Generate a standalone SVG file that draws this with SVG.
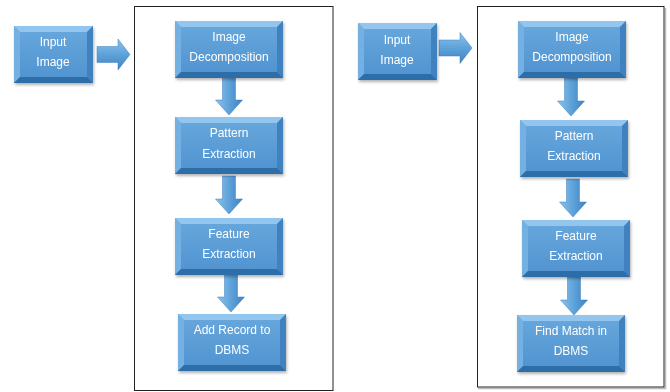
<svg xmlns="http://www.w3.org/2000/svg" xmlns:xlink="http://www.w3.org/1999/xlink" width="670" height="392" viewBox="0 0 670 392">
<defs>
<linearGradient id="face" x1="0" y1="0" x2="0" y2="1">
<stop offset="0" stop-color="#68a8dd"/>
<stop offset="1" stop-color="#4f92cf"/>
</linearGradient>
<linearGradient id="arrV" x1="0" y1="0" x2="1" y2="0">
<stop offset="0" stop-color="#8cc3ec"/>
<stop offset="0.5" stop-color="#5ea2da"/>
<stop offset="1" stop-color="#3f83c2"/>
</linearGradient>
<linearGradient id="arrH" x1="0" y1="0" x2="0" y2="1">
<stop offset="0" stop-color="#8cc3ec"/>
<stop offset="0.5" stop-color="#5ea2da"/>
<stop offset="1" stop-color="#3f83c2"/>
</linearGradient>
<filter id="sh" x="-10%" y="-10%" width="125%" height="130%">
<feDropShadow dx="1" dy="2" stdDeviation="1.5" flood-color="#000" flood-opacity="0.3"/>
</filter>
<g id="box">
<rect x="0" y="0" width="108" height="57" fill="url(#face)"/>
<polygon points="0,0 108,0 102,6 6,6" fill="#93c6ee"/>
<polygon points="0,0 6,6 6,51 0,57" fill="#74b0e2"/>
<polygon points="108,0 108,57 102,51 102,6" fill="#3f82c0"/>
<polygon points="0,57 6,51 102,51 108,57" fill="#2f6ea8"/>
</g>
<g id="sbox">
<rect x="0" y="0" width="79" height="57" fill="url(#face)"/>
<polygon points="0,0 79,0 73,6 6,6" fill="#93c6ee"/>
<polygon points="0,0 6,6 6,51 0,57" fill="#74b0e2"/>
<polygon points="79,0 79,57 73,51 73,6" fill="#3f82c0"/>
<polygon points="0,57 6,51 73,51 79,57" fill="#2f6ea8"/>
</g>
<polygon id="down" points="-6.5,0 6.5,0 6.5,23 13.5,23 0,38 -13.5,23 -6.5,23" fill="url(#arrV)" stroke="#3f7fbc" stroke-width="0.5"/>
<polygon id="right" points="0,-8 21,-8 21,-15.5 33,0 21,15.5 21,8 0,8" fill="url(#arrH)" stroke="#3f7fbc" stroke-width="0.5"/>
</defs>
<style>
text{font-family:"Liberation Sans",Arial,sans-serif;font-size:12px;fill:#fff;text-anchor:middle}
.frame{fill:#fff;stroke:#222;stroke-width:1}
</style>
<rect width="670" height="392" fill="#fff"/>
<g id="frames">
<rect class="frame" x="134.5" y="6.5" width="198.5" height="384"/>
<polyline points="478,388.5 665.5,388.5 665.5,8" fill="none" stroke="#bbb" stroke-width="1.5"/>
<rect class="frame" x="477.5" y="6.5" width="186.5" height="380.5"/>
</g>
<g id="connectors">
<use href="#right" transform="translate(97,54.5)"/>
<use href="#down" transform="translate(229,77)"/>
<use href="#down" transform="translate(229,176)"/>
<use href="#down" transform="translate(231,274)"/>
<use href="#right" transform="translate(439,48)"/>
<use href="#down" transform="translate(571,78)"/>
<use href="#down" transform="translate(573,179)"/>
<use href="#down" transform="translate(574,277)"/>
</g>
<g id="n1" filter="url(#sh)"><use href="#sbox" transform="translate(14,26)"/><text x="53" y="46">Input</text><text x="53" y="66">Image</text></g>
<g id="n2" filter="url(#sh)"><use href="#box" transform="translate(175,21)"/><text x="229" y="41">Image</text><text x="229" y="61">Decomposition</text></g>
<g id="n3" filter="url(#sh)"><use href="#box" transform="translate(175,117)"/><text x="229" y="137">Pattern</text><text x="229" y="158">Extraction</text></g>
<g id="n4" filter="url(#sh)"><use href="#box" transform="translate(175,218)"/><text x="229" y="238">Feature</text><text x="229" y="258">Extraction</text></g>
<g id="n5" filter="url(#sh)"><use href="#box" transform="translate(178,314)"/><text x="232" y="334">Add Record to</text><text x="232" y="354">DBMS</text></g>
<g id="m1" filter="url(#sh)"><use href="#sbox" transform="translate(358,23)"/><text x="397" y="44">Input</text><text x="397" y="64">Image</text></g>
<g id="m2" filter="url(#sh)"><use href="#box" transform="translate(518,21)"/><text x="572" y="41">Image</text><text x="572" y="61">Decomposition</text></g>
<g id="m3" filter="url(#sh)"><use href="#box" transform="translate(520,120)"/><text x="574" y="140">Pattern</text><text x="574" y="160">Extraction</text></g>
<g id="m4" filter="url(#sh)"><use href="#box" transform="translate(522,220)"/><text x="576" y="240">Feature</text><text x="576" y="260">Extraction</text></g>
<g id="m5" filter="url(#sh)"><use href="#box" transform="translate(517,315)"/><text x="571" y="335">Find Match in</text><text x="571" y="355">DBMS</text></g>
</svg>
